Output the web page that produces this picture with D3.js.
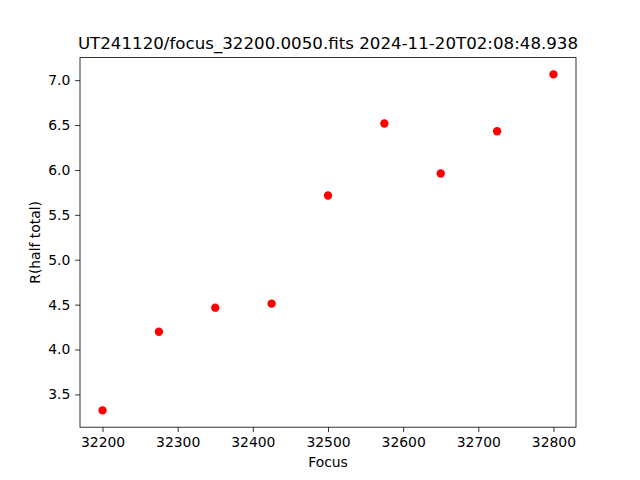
<!DOCTYPE html>
<html><head><meta charset="utf-8">
<script src="https://cdn.jsdelivr.net/npm/d3@7"></script>
<style>body{margin:0;background:#fff}svg{display:block}text{font-family:"DejaVu Sans",sans-serif}</style>
</head><body>
<script>
const focusVals = [32200, 32275, 32350, 32425, 32500, 32575, 32650, 32725, 32800];
const rHalf = [3.322, 4.198, 4.466, 4.511, 5.715, 6.517, 5.960, 6.431, 7.064];
const xTicks = [32200, 32300, 32400, 32500, 32600, 32700, 32800];
const yTicks = [3.5, 4.0, 4.5, 5.0, 5.5, 6.0, 6.5, 7.0];
const title = "UT241120/focus_32200.0050.fits 2024-11-20T02:08:48.938";

const W = 640, H = 480;
const L = 80, R = 576, T = 57.6, B = 427.2;
const svg = d3.select("body").append("svg").attr("width", W).attr("height", H);
svg.append("rect").attr("width", W).attr("height", H).attr("fill", "#fff");

const xmin = d3.min(focusVals), xmax = d3.max(focusVals), xm = (xmax - xmin) * 0.05;
const ymin = d3.min(rHalf), ymax = d3.max(rHalf), ym = (ymax - ymin) * 0.05;
const x = d3.scaleLinear().domain([xmin - xm, xmax + xm]).range([L, R]);
const y = d3.scaleLinear().domain([ymin - ym, ymax + ym]).range([B, T]);

const xAxis = svg.append("g").attr("transform", `translate(0,${B})`)
  .call(d3.axisBottom(x).tickValues(xTicks).tickFormat(d3.format("d")).tickSize(4.86).tickPadding(4.86));
const yAxis = svg.append("g").attr("transform", `translate(${L},0)`)
  .call(d3.axisLeft(y).tickValues(yTicks).tickFormat(d3.format(".1f")).tickSize(4.86).tickPadding(4.86));
[xAxis, yAxis].forEach(g => {
  g.select(".domain").remove();
  g.selectAll("line").attr("stroke", "#000").attr("stroke-width", 0.8);
  g.selectAll("text").attr("font-size", "13.9px").attr("fill", "#000").attr("font-family", "DejaVu Sans, sans-serif");
});

svg.append("rect").attr("x", L).attr("y", T).attr("width", R - L).attr("height", B - T)
  .attr("fill", "none").attr("stroke", "#000").attr("stroke-width", 0.8);

svg.append("g").selectAll("circle").data(focusVals).join("circle")
  .attr("cx", (d) => x(d)).attr("cy", (d, i) => y(rHalf[i])).attr("r", 4.17).attr("fill", "#ff0000");

svg.append("text").attr("x", (L + R) / 2).attr("y", 49.3).attr("text-anchor", "middle")
  .attr("font-size", "16.67px").text(title);
svg.append("text").attr("x", (L + R) / 2).attr("y", 467).attr("text-anchor", "middle")
  .attr("font-size", "13.9px").text("Focus");
svg.append("text").attr("transform", `translate(39.5,${(T + B) / 2}) rotate(-90)`).attr("text-anchor", "middle")
  .attr("font-size", "13.9px").text("R(half total)");
</script>
</body></html>
